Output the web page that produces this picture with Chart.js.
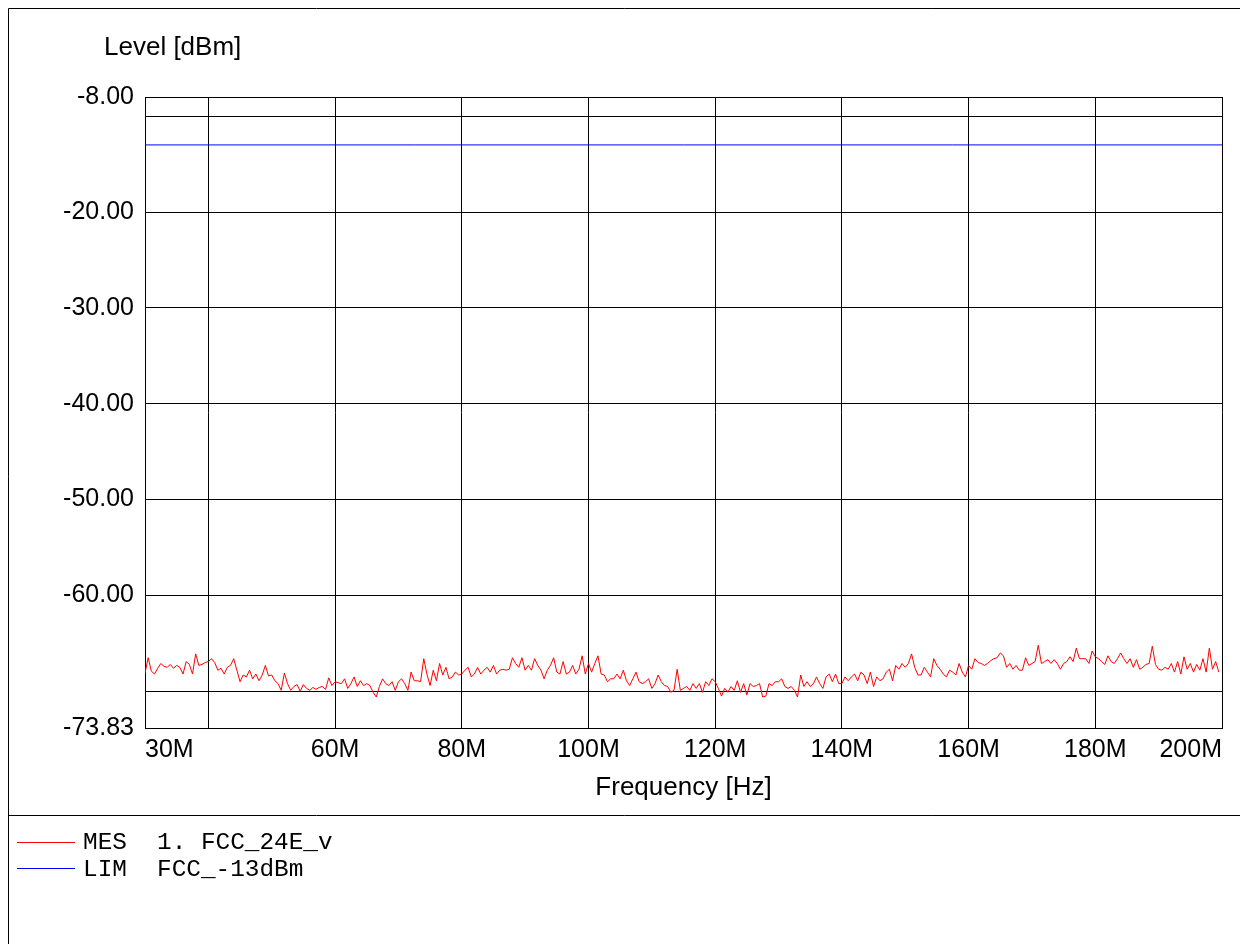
<!DOCTYPE html>
<html>
<head>
<meta charset="utf-8">
<script src="https://cdn.jsdelivr.net/npm/chart.js@4.4.0/dist/chart.umd.min.js"></script>
<style>
  html, body { margin: 0; padding: 0; background: #fff; }
  canvas { display: block; }
</style>
</head>
<body>
<canvas id="emiChart" width="1240" height="944"></canvas>
<script>
// sweep: 30 MHz .. 199.5 MHz, one reading every 0.5 MHz
var sweepStartMHz = 30;
var sweepStepMHz = 0.5;

// MES trace, dBm (20 readings per 10 MHz band)
var mesLevels = [
  -68.1,-66.5,-67.9,-68.2,-67.6,-67.1,-67.4,-67.5,-67.2,-67.6,-67.3,-67.5,-68.2,-66.9,-67.2,-68.2,-66.1,-67.3,-67.2,-67.0, // 30M
  -66.9,-66.6,-67.0,-67.8,-67.6,-68.2,-67.5,-67.3,-66.6,-67.8,-69.0,-68.3,-68.5,-67.8,-68.7,-68.2,-68.9,-68.3,-67.3,-68.4, // 40M
  -68.3,-68.9,-69.2,-69.9,-68.1,-69.2,-69.9,-69.5,-69.3,-70.0,-69.3,-69.7,-69.9,-69.6,-69.8,-69.6,-69.5,-69.8,-68.6,-69.4, // 50M
  -69.0,-69.1,-69.2,-68.7,-69.7,-69.2,-68.5,-69.5,-68.9,-69.4,-69.2,-69.4,-70.1,-70.6,-69.5,-68.7,-69.2,-69.4,-69.0,-69.9, // 60M
  -69.0,-68.7,-69.2,-69.9,-68.0,-68.9,-68.9,-69.0,-66.6,-68.2,-69.4,-67.8,-68.9,-67.1,-68.3,-67.5,-68.7,-68.5,-68.0,-68.3, // 70M
  -68.2,-67.8,-67.5,-68.5,-68.2,-67.5,-68.2,-67.8,-67.5,-68.0,-67.3,-68.2,-67.8,-67.7,-67.8,-67.7,-66.5,-67.1,-67.5,-66.5, // 80M
  -67.8,-67.3,-67.8,-66.6,-67.3,-67.8,-68.7,-67.8,-67.3,-66.5,-68.0,-68.2,-66.9,-68.2,-68.0,-67.3,-68.2,-67.7,-66.3,-68.2, // 90M
  -67.1,-68.0,-67.1,-66.3,-68.2,-68.3,-69.0,-68.7,-68.7,-68.2,-68.7,-67.8,-68.9,-69.4,-68.7,-68.0,-69.0,-69.2,-69.0,-68.7, // 100M
  -69.7,-69.2,-68.3,-69.0,-69.4,-69.5,-70.1,-69.9,-67.7,-69.9,-69.7,-69.5,-69.9,-69.2,-69.7,-69.2,-70.1,-69.0,-69.4,-68.7, // 110M
  -69.0,-69.7,-70.5,-69.7,-70.1,-69.5,-69.9,-68.9,-70.1,-69.2,-70.4,-69.2,-69.5,-69.4,-69.2,-70.6,-70.5,-69.2,-69.4,-69.0, // 120M
  -69.0,-68.7,-69.5,-69.7,-69.5,-69.9,-70.6,-68.3,-69.5,-69.0,-69.5,-69.2,-68.5,-69.2,-69.7,-68.5,-68.2,-69.0,-68.2,-69.2, // 130M
  -69.2,-68.5,-68.9,-68.5,-68.2,-68.9,-68.0,-68.3,-69.2,-68.0,-69.5,-68.5,-68.9,-68.7,-68.0,-67.7,-68.9,-67.3,-67.7,-67.1, // 140M
  -67.5,-67.1,-66.1,-67.5,-68.3,-68.3,-67.5,-68.0,-68.5,-66.6,-67.3,-67.7,-68.2,-68.5,-67.8,-68.0,-68.3,-67.1,-68.0,-68.5, // 150M
  -67.3,-67.7,-66.6,-67.0,-67.1,-67.3,-67.1,-66.8,-66.6,-66.5,-66.0,-66.3,-67.5,-67.1,-67.7,-67.3,-67.8,-67.8,-66.5,-67.3, // 160M
  -67.1,-66.9,-65.2,-67.1,-66.9,-66.7,-67.1,-66.7,-67.1,-67.7,-67.1,-66.9,-66.4,-66.9,-65.5,-66.6,-66.6,-66.6,-67.1,-65.8, // 170M
  -66.4,-66.6,-66.9,-67.2,-66.3,-66.9,-67.1,-66.6,-66.0,-66.6,-67.1,-66.6,-67.5,-66.7,-67.7,-67.5,-67.2,-67.1,-65.3,-67.2, // 180M
  -67.7,-67.8,-67.5,-67.7,-67.1,-68.0,-66.9,-68.2,-66.4,-67.7,-67.1,-68.0,-67.2,-67.8,-66.6,-68.0,-65.5,-67.7,-66.9,-68.0  // 190M
];

// LIM line
var limFreqs = [30, 200];
var limLevels = [-13, -13];

var xTickValues = [30, 40, 60, 80, 100, 120, 140, 160, 180, 200];
var xTickLabels = ['30M', '', '60M', '80M', '100M', '120M', '140M', '160M', '180M', '200M'];
var yTickValues = [-73.83, -70, -60, -50, -40, -30, -20, -10, -8];
var yTickLabels = ['-73.83', '', '-60.00', '-50.00', '-40.00', '-30.00', '-20.00', '', '-8.00'];

var xTitle = 'Frequency [Hz]';
var yTitle = 'Level [dBm]';
var legendKinds = ['MES', 'LIM'];
var legendNames = ['1. FCC_24E_v', 'FCC_-13dBm'];

var mesPoints = mesLevels.map(function (v, i) {
  return { x: sweepStartMHz + i * sweepStepMHz, y: v };
});
var limPoints = limFreqs.map(function (f, i) {
  return { x: f, y: limLevels[i] };
});

var sansFont = '"Liberation Sans", Arial, sans-serif';

var framePlugin = {
  id: 'frame',
  beforeDraw: function (chart) {
    var ctx = chart.ctx;
    ctx.save();
    ctx.fillStyle = '#fff';
    ctx.fillRect(0, 0, chart.width, chart.height);
    ctx.restore();
  },
  afterDraw: function (chart) {
    var ctx = chart.ctx;
    var area = chart.chartArea;
    ctx.save();
    ctx.strokeStyle = '#000';
    ctx.lineWidth = 1;
    ctx.beginPath();
    ctx.moveTo(8.5, 944);
    ctx.lineTo(8.5, 8.5);
    ctx.lineTo(1240, 8.5);
    ctx.moveTo(8.5, 815.5);
    ctx.lineTo(1240, 815.5);
    ctx.stroke();

    ctx.fillStyle = '#000';
    ctx.font = '26px ' + sansFont;
    ctx.textBaseline = 'alphabetic';
    ctx.textAlign = 'left';
    ctx.fillText(yTitle, 104, 55);
    ctx.textAlign = 'center';
    ctx.fillText(xTitle, (area.left + area.right) / 2, 795);

    // legend block under the plot
    ctx.font = '24.4px "Liberation Mono", "DejaVu Sans Mono", monospace';
    ctx.textAlign = 'left';
    var rowY = [849, 876];
    var lineY = [842.5, 868.5];
    chart.data.datasets.forEach(function (ds, i) {
      ctx.strokeStyle = ds.borderColor;
      ctx.beginPath();
      ctx.moveTo(17, lineY[i]);
      ctx.lineTo(75, lineY[i]);
      ctx.stroke();
      ctx.fillText(legendKinds[i], 83, rowY[i]);
      ctx.fillText(legendNames[i], 157, rowY[i]);
    });
    ctx.restore();
  }
};

new Chart(document.getElementById('emiChart'), {
  type: 'line',
  data: {
    datasets: [
      {
        label: 'MES',
        data: mesPoints,
        borderColor: '#ff0000',
        borderWidth: 1,
        pointRadius: 0,
        tension: 0,
        fill: false
      },
      {
        label: 'LIM',
        data: limPoints,
        borderColor: '#0000ff',
        borderWidth: 1,
        pointRadius: 0,
        tension: 0,
        fill: false
      }
    ]
  },
  options: {
    responsive: false,
    animation: false,
    devicePixelRatio: 1,
    layout: { padding: { left: 0, top: 97, right: 18, bottom: 0 } },
    plugins: {
      legend: { display: false },
      tooltip: { enabled: false }
    },
    scales: {
      x: {
        type: 'linear',
        min: 30,
        max: 200,
        afterBuildTicks: function (axis) {
          axis.ticks = xTickValues.map(function (v) { return { value: v }; });
        },
        afterFit: function (axis) { axis.height = 944 - 728; },
        ticks: {
          autoSkip: false,
          maxRotation: 0,
          align: 'inner',
          padding: 7,
          color: '#000',
          font: { family: sansFont, size: 25 },
          callback: function (v, i) { return xTickLabels[i]; }
        },
        grid: { color: '#000', lineWidth: 1, drawTicks: false },
        border: { color: '#000', width: 1 }
      },
      y: {
        type: 'linear',
        min: -73.83,
        max: -8,
        afterBuildTicks: function (axis) {
          axis.ticks = yTickValues.map(function (v) { return { value: v }; });
        },
        afterFit: function (axis) { axis.width = 145; },
        ticks: {
          autoSkip: false,
          padding: 11,
          color: '#000',
          font: { family: sansFont, size: 25 },
          callback: function (v, i) { return yTickLabels[i]; }
        },
        grid: { color: '#000', lineWidth: 1, drawTicks: false },
        border: { color: '#000', width: 1 }
      }
    }
  },
  plugins: [framePlugin]
});
</script>
</body>
</html>
